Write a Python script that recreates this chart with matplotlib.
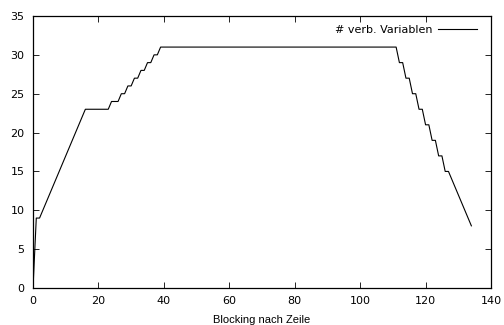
import numpy as np
import matplotlib
matplotlib.use('Agg')
import matplotlib.pyplot as plt

# Daten: Anzahl verbundener Variablen je Blocking-Zeile
zeile = np.arange(0, 135)
variablen = np.array(
    [0, 9, 9, 10, 11, 12, 13, 14, 15, 16, 17, 18, 19, 20, 21, 22, 23,
     23, 23, 23, 23, 23, 23, 23,
     24, 24, 24, 25, 25, 26, 26, 27, 27, 28, 28, 29, 29, 30, 30]
    + [31] * (111 - 39 + 1)
    + [29, 29, 27, 27, 25, 25, 23, 23, 21, 21, 19, 19, 17, 17, 15, 15,
       14, 13, 12, 11, 10, 9, 8]
)

plt.rcParams['font.family'] = 'DejaVu Sans'
plt.rcParams['font.size'] = 8

fig = plt.figure(figsize=(5.04, 3.25), dpi=100)
ax = fig.add_axes([0.0655, 0.1138, 0.9087, 0.837])

ax.plot(zeile, variablen, color='black', lw=0.8, label='# verb. Variablen')

ax.set_xlim(0, 140)
ax.set_ylim(0, 35)
ax.set_xticks(range(0, 141, 20))
ax.set_yticks(range(0, 36, 5))
ax.tick_params(direction='in', top=True, right=True, length=4, width=0.6,
               labelsize=8, pad=6)
for s in ax.spines.values():
    s.set_linewidth(0.9)

fig.text(0.519, 1 - 320 / 325, 'Blocking nach Zeile', family='Liberation Sans',
         fontsize=8, ha='center', va='center')
ax.legend(loc='upper right', frameon=False, markerfirst=False, handlelength=3.5,
          fontsize=8, borderaxespad=0, handletextpad=0.45,
          bbox_to_anchor=(0.955, 0.9375), bbox_transform=fig.transFigure)

fig.savefig('out.png', dpi=100)
